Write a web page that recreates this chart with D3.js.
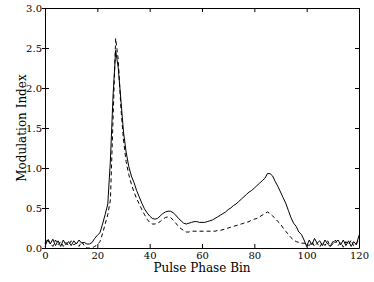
<!DOCTYPE html>
<html><head><meta charset="utf-8">
<script src="https://cdn.jsdelivr.net/npm/d3@7"></script>
<style>body{margin:0;background:#fff}svg{display:block}</style>
</head><body>
<script>
const bins = d3.range(0, 121);
const solidValues = [
0.02,0.10,0.05,0.11,0.03,0.09,0.02,0.10,0.04,0.08,
0.03,0.09,0.05,0.10,0.06,0.07,0.05,0.05,0.07,0.12,
0.16,0.19,0.30,0.42,0.55,1.10,1.90,2.47,2.25,1.85,
1.45,1.20,1.02,0.90,0.82,0.72,0.64,0.56,0.49,0.44,
0.40,0.37,0.36,0.37,0.40,0.43,0.45,0.46,0.46,0.44,
0.41,0.37,0.34,0.31,0.30,0.31,0.32,0.33,0.33,0.32,
0.32,0.32,0.33,0.34,0.35,0.37,0.39,0.41,0.43,0.45,
0.48,0.50,0.53,0.55,0.58,0.61,0.64,0.67,0.70,0.72,
0.75,0.78,0.81,0.84,0.87,0.93,0.93,0.90,0.83,0.77,
0.70,0.63,0.56,0.47,0.38,0.31,0.27,0.20,0.17,0.10,
0.02,0.10,0.04,0.12,0.06,0.09,0.03,0.10,0.05,0.02,
0.08,0.07,0.10,0.04,0.10,0.03,0.09,0.02,0.08,0.04,
0.16];
const dashedValues = [
0.05,0.12,0.06,0.02,0.10,0.04,0.08,0.02,0.07,0.03,
0.09,0.04,0.06,0.02,0.08,0.03,0.00,0.00,0.00,0.02,
0.04,0.08,0.18,0.30,0.42,0.60,1.60,2.62,2.35,1.75,
1.35,1.08,0.92,0.80,0.70,0.62,0.55,0.48,0.42,0.36,
0.32,0.30,0.30,0.31,0.33,0.36,0.38,0.39,0.38,0.35,
0.31,0.27,0.24,0.22,0.20,0.20,0.21,0.21,0.21,0.21,
0.21,0.21,0.21,0.21,0.21,0.21,0.22,0.22,0.23,0.24,
0.25,0.26,0.27,0.28,0.29,0.30,0.31,0.32,0.33,0.35,
0.36,0.37,0.39,0.41,0.43,0.45,0.43,0.40,0.37,0.33,
0.30,0.25,0.21,0.17,0.13,0.10,0.08,0.07,0.06,0.06,
0.05,0.03,0.08,0.02,0.06,0.01,0.07,0.03,0.09,0.02,
0.05,0.10,0.03,0.07,0.01,0.08,0.04,0.10,0.02,0.06,
0.10];
const xTicks = [0, 20, 40, 60, 80, 100, 120];
const yTicks = [0.0, 0.5, 1.0, 1.5, 2.0, 2.5, 3.0];
const xLabel = "Pulse Phase Bin";
const yLabel = "Modulation Index";

const W = 374, H = 282;
const m = {left: 45, right: 15, top: 8, bottom: 34};
const svg = d3.select("body").append("svg").attr("width", W).attr("height", H);
const x = d3.scaleLinear().domain([0, 120]).range([m.left, W - m.right]);
const y = d3.scaleLinear().domain([0, 3]).range([H - m.bottom, m.top]);
const font = "DejaVu Serif";

const line = d3.line().x((d, i) => x(bins[i])).y(d => y(d));
svg.append("path").datum(solidValues).attr("d", line)
  .attr("fill", "none").attr("stroke", "#000").attr("stroke-width", 1);
svg.append("path").datum(dashedValues).attr("d", line)
  .attr("fill", "none").attr("stroke", "#000").attr("stroke-width", 1)
  .attr("stroke-dasharray", "4,3");

const fmt = d3.format(".1f");
const gB = svg.append("g").attr("transform", `translate(0,${y(0)})`)
  .call(d3.axisBottom(x).tickValues(xTicks).tickSizeInner(-4).tickSizeOuter(0).tickPadding(4));
const gT = svg.append("g").attr("transform", `translate(0,${y(3)})`)
  .call(d3.axisTop(x).tickValues(xTicks).tickSizeInner(-4).tickSizeOuter(0).tickFormat(""));
const gL = svg.append("g").attr("transform", `translate(${x(0)},0)`)
  .call(d3.axisLeft(y).tickValues(yTicks).tickFormat(fmt).tickSizeInner(-4).tickSizeOuter(0).tickPadding(3));
const gR = svg.append("g").attr("transform", `translate(${x(120)},0)`)
  .call(d3.axisRight(y).tickValues(yTicks).tickSizeInner(-4).tickSizeOuter(0).tickFormat(""));
[gB, gT, gL, gR].forEach(g => {
  g.selectAll("text").attr("font-family", font).attr("font-size", 10).attr("fill", "#000");
  g.selectAll("line").attr("stroke", "#000");
  g.select(".domain").attr("stroke", "#000");
});
gL.selectAll(".tick line").clone().attr("x2", -3);

svg.append("text").attr("x", (x(0) + x(120)) / 2).attr("y", 272)
  .attr("text-anchor", "middle").attr("font-family", font).attr("font-size", 12).text(xLabel);
svg.append("text").attr("transform", `translate(26,${(y(0) + y(3)) / 2}) rotate(-90)`)
  .attr("text-anchor", "middle").attr("font-family", font).attr("font-size", 12).text(yLabel);
</script>
</body></html>
